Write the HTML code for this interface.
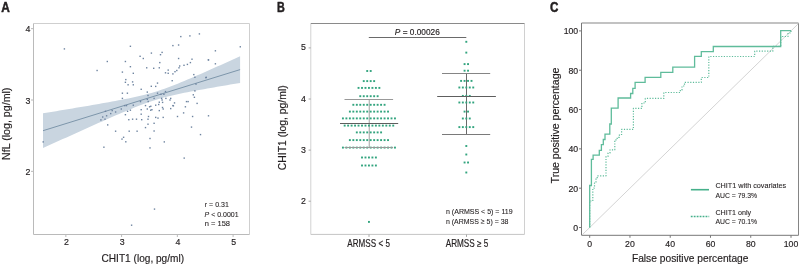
<!DOCTYPE html>
<html><head><meta charset="utf-8"><style>
html,body{margin:0;padding:0;background:#fff;width:800px;height:265px;overflow:hidden}
svg{will-change:transform}
</style></head><body>
<svg width="800" height="265" viewBox="0 0 800 265" style="display:block">
<g font-family='"Liberation Sans", sans-serif' stroke-linejoin="round">
<polygon points="43.00,113.31 46.28,112.77 49.57,112.23 52.85,111.69 56.14,111.15 59.42,110.60 62.71,110.06 66.00,109.51 69.28,108.96 72.56,108.41 75.85,107.86 79.13,107.31 82.42,106.75 85.70,106.20 88.99,105.63 92.28,105.07 95.56,104.50 98.84,103.93 102.13,103.35 105.41,102.77 108.70,102.18 111.98,101.58 115.27,100.98 118.56,100.36 121.84,99.73 125.12,99.09 128.41,98.42 131.69,97.74 134.98,97.03 138.26,96.29 141.55,95.52 144.83,94.70 148.12,93.84 151.41,92.92 154.69,91.95 157.97,90.92 161.26,89.83 164.55,88.69 167.83,87.49 171.11,86.25 174.40,84.97 177.69,83.66 180.97,82.32 184.25,80.95 187.54,79.57 190.82,78.17 194.11,76.76 197.39,75.33 200.68,73.90 203.97,72.46 207.25,71.01 210.53,69.55 213.82,68.09 217.10,66.62 220.39,65.15 223.68,63.68 226.96,62.20 230.24,60.72 233.53,59.24 236.81,57.76 240.10,56.27 240.10,82.93 236.81,83.48 233.53,84.03 230.24,84.59 226.96,85.14 223.68,85.70 220.39,86.27 217.10,86.83 213.82,87.40 210.53,87.98 207.25,88.56 203.97,89.15 200.68,89.74 197.39,90.34 194.11,90.95 190.82,91.58 187.54,92.21 184.25,92.87 180.97,93.54 177.69,94.24 174.40,94.96 171.11,95.72 167.83,96.52 164.55,97.36 161.26,98.25 157.97,99.20 154.69,100.20 151.41,101.27 148.12,102.39 144.83,103.56 141.55,104.78 138.26,106.04 134.98,107.34 131.69,108.67 128.41,110.02 125.12,111.40 121.84,112.79 118.56,114.20 115.27,115.62 111.98,117.05 108.70,118.49 105.41,119.93 102.13,121.39 98.84,122.85 95.56,124.31 92.28,125.78 88.99,127.25 85.70,128.73 82.42,130.21 79.13,131.69 75.85,133.17 72.56,134.65 69.28,136.14 66.00,137.63 62.71,139.12 59.42,140.61 56.14,142.10 52.85,143.60 49.57,145.09 46.28,146.59 43.00,148.09" fill="#c9d5e0"/>
<line x1="43.0" y1="130.70" x2="240.1" y2="69.60" stroke="#6f8aa1" stroke-width="0.85"/>
<rect x="63.70" y="48.20" width="1.4" height="1.4" fill="#6e84a0"/>
<rect x="129.70" y="45.60" width="1.4" height="1.4" fill="#6e84a0"/>
<rect x="150.70" y="52.40" width="1.4" height="1.4" fill="#6e84a0"/>
<rect x="139.40" y="55.60" width="1.4" height="1.4" fill="#6e84a0"/>
<rect x="142.60" y="57.80" width="1.4" height="1.4" fill="#6e84a0"/>
<rect x="106.60" y="60.80" width="1.4" height="1.4" fill="#6e84a0"/>
<rect x="124.70" y="60.80" width="1.4" height="1.4" fill="#6e84a0"/>
<rect x="129.70" y="66.00" width="1.4" height="1.4" fill="#6e84a0"/>
<rect x="146.00" y="67.10" width="1.4" height="1.4" fill="#6e84a0"/>
<rect x="96.40" y="69.80" width="1.4" height="1.4" fill="#6e84a0"/>
<rect x="121.70" y="71.40" width="1.4" height="1.4" fill="#6e84a0"/>
<rect x="132.60" y="72.60" width="1.4" height="1.4" fill="#6e84a0"/>
<rect x="125.10" y="78.90" width="1.4" height="1.4" fill="#6e84a0"/>
<rect x="124.70" y="81.60" width="1.4" height="1.4" fill="#6e84a0"/>
<rect x="131.90" y="81.20" width="1.4" height="1.4" fill="#6e84a0"/>
<rect x="198.70" y="33.20" width="1.4" height="1.4" fill="#6e84a0"/>
<rect x="189.20" y="35.20" width="1.4" height="1.4" fill="#6e84a0"/>
<rect x="180.10" y="35.90" width="1.4" height="1.4" fill="#6e84a0"/>
<rect x="172.20" y="44.90" width="1.4" height="1.4" fill="#6e84a0"/>
<rect x="177.90" y="44.30" width="1.4" height="1.4" fill="#6e84a0"/>
<rect x="161.40" y="51.70" width="1.4" height="1.4" fill="#6e84a0"/>
<rect x="159.80" y="54.00" width="1.4" height="1.4" fill="#6e84a0"/>
<rect x="177.90" y="57.80" width="1.4" height="1.4" fill="#6e84a0"/>
<rect x="191.30" y="58.50" width="1.4" height="1.4" fill="#6e84a0"/>
<rect x="207.80" y="59.20" width="1.4" height="1.4" fill="#6e84a0"/>
<rect x="159.10" y="61.90" width="1.4" height="1.4" fill="#6e84a0"/>
<rect x="189.70" y="61.90" width="1.4" height="1.4" fill="#6e84a0"/>
<rect x="186.70" y="63.70" width="1.4" height="1.4" fill="#6e84a0"/>
<rect x="183.30" y="64.60" width="1.4" height="1.4" fill="#6e84a0"/>
<rect x="179.00" y="65.30" width="1.4" height="1.4" fill="#6e84a0"/>
<rect x="178.30" y="67.10" width="1.4" height="1.4" fill="#6e84a0"/>
<rect x="158.60" y="67.10" width="1.4" height="1.4" fill="#6e84a0"/>
<rect x="153.00" y="67.60" width="1.4" height="1.4" fill="#6e84a0"/>
<rect x="167.50" y="69.40" width="1.4" height="1.4" fill="#6e84a0"/>
<rect x="176.10" y="69.80" width="1.4" height="1.4" fill="#6e84a0"/>
<rect x="174.30" y="71.00" width="1.4" height="1.4" fill="#6e84a0"/>
<rect x="164.80" y="72.10" width="1.4" height="1.4" fill="#6e84a0"/>
<rect x="167.50" y="72.60" width="1.4" height="1.4" fill="#6e84a0"/>
<rect x="172.20" y="73.20" width="1.4" height="1.4" fill="#6e84a0"/>
<rect x="193.10" y="73.90" width="1.4" height="1.4" fill="#6e84a0"/>
<rect x="171.50" y="80.00" width="1.4" height="1.4" fill="#6e84a0"/>
<rect x="194.20" y="76.60" width="1.4" height="1.4" fill="#6e84a0"/>
<rect x="205.50" y="76.60" width="1.4" height="1.4" fill="#6e84a0"/>
<rect x="239.60" y="46.10" width="1.4" height="1.4" fill="#6e84a0"/>
<rect x="214.70" y="50.10" width="1.4" height="1.4" fill="#6e84a0"/>
<rect x="207.70" y="59.20" width="1.4" height="1.4" fill="#6e84a0"/>
<rect x="214.70" y="63.10" width="1.4" height="1.4" fill="#6e84a0"/>
<rect x="205.20" y="77.00" width="1.4" height="1.4" fill="#6e84a0"/>
<rect x="127.40" y="84.10" width="1.4" height="1.4" fill="#6e84a0"/>
<rect x="132.60" y="84.10" width="1.4" height="1.4" fill="#6e84a0"/>
<rect x="140.50" y="88.60" width="1.4" height="1.4" fill="#6e84a0"/>
<rect x="146.60" y="91.40" width="1.4" height="1.4" fill="#6e84a0"/>
<rect x="121.70" y="92.50" width="1.4" height="1.4" fill="#6e84a0"/>
<rect x="126.70" y="92.50" width="1.4" height="1.4" fill="#6e84a0"/>
<rect x="147.30" y="94.80" width="1.4" height="1.4" fill="#6e84a0"/>
<rect x="121.70" y="97.70" width="1.4" height="1.4" fill="#6e84a0"/>
<rect x="146.60" y="98.60" width="1.4" height="1.4" fill="#6e84a0"/>
<rect x="139.80" y="100.90" width="1.4" height="1.4" fill="#6e84a0"/>
<rect x="125.80" y="104.90" width="1.4" height="1.4" fill="#6e84a0"/>
<rect x="124.00" y="104.90" width="1.4" height="1.4" fill="#6e84a0"/>
<rect x="132.60" y="104.50" width="1.4" height="1.4" fill="#6e84a0"/>
<rect x="144.80" y="104.90" width="1.4" height="1.4" fill="#6e84a0"/>
<rect x="148.90" y="106.10" width="1.4" height="1.4" fill="#6e84a0"/>
<rect x="146.60" y="108.30" width="1.4" height="1.4" fill="#6e84a0"/>
<rect x="140.50" y="109.00" width="1.4" height="1.4" fill="#6e84a0"/>
<rect x="150.00" y="109.50" width="1.4" height="1.4" fill="#6e84a0"/>
<rect x="126.90" y="110.60" width="1.4" height="1.4" fill="#6e84a0"/>
<rect x="129.70" y="109.50" width="1.4" height="1.4" fill="#6e84a0"/>
<rect x="120.60" y="108.30" width="1.4" height="1.4" fill="#6e84a0"/>
<rect x="111.50" y="109.90" width="1.4" height="1.4" fill="#6e84a0"/>
<rect x="114.90" y="111.30" width="1.4" height="1.4" fill="#6e84a0"/>
<rect x="104.80" y="110.60" width="1.4" height="1.4" fill="#6e84a0"/>
<rect x="110.00" y="112.90" width="1.4" height="1.4" fill="#6e84a0"/>
<rect x="105.90" y="115.10" width="1.4" height="1.4" fill="#6e84a0"/>
<rect x="124.70" y="114.00" width="1.4" height="1.4" fill="#6e84a0"/>
<rect x="140.50" y="113.50" width="1.4" height="1.4" fill="#6e84a0"/>
<rect x="147.80" y="115.80" width="1.4" height="1.4" fill="#6e84a0"/>
<rect x="102.00" y="116.30" width="1.4" height="1.4" fill="#6e84a0"/>
<rect x="100.20" y="119.20" width="1.4" height="1.4" fill="#6e84a0"/>
<rect x="104.30" y="118.50" width="1.4" height="1.4" fill="#6e84a0"/>
<rect x="128.10" y="119.00" width="1.4" height="1.4" fill="#6e84a0"/>
<rect x="131.90" y="118.50" width="1.4" height="1.4" fill="#6e84a0"/>
<rect x="135.80" y="118.50" width="1.4" height="1.4" fill="#6e84a0"/>
<rect x="141.00" y="119.00" width="1.4" height="1.4" fill="#6e84a0"/>
<rect x="147.30" y="118.50" width="1.4" height="1.4" fill="#6e84a0"/>
<rect x="107.00" y="124.20" width="1.4" height="1.4" fill="#6e84a0"/>
<rect x="147.30" y="123.50" width="1.4" height="1.4" fill="#6e84a0"/>
<rect x="144.80" y="126.90" width="1.4" height="1.4" fill="#6e84a0"/>
<rect x="114.90" y="130.50" width="1.4" height="1.4" fill="#6e84a0"/>
<rect x="128.50" y="130.50" width="1.4" height="1.4" fill="#6e84a0"/>
<rect x="136.40" y="130.50" width="1.4" height="1.4" fill="#6e84a0"/>
<rect x="122.90" y="136.60" width="1.4" height="1.4" fill="#6e84a0"/>
<rect x="121.30" y="138.40" width="1.4" height="1.4" fill="#6e84a0"/>
<rect x="149.30" y="137.80" width="1.4" height="1.4" fill="#6e84a0"/>
<rect x="155.00" y="85.70" width="1.4" height="1.4" fill="#6e84a0"/>
<rect x="195.30" y="83.40" width="1.4" height="1.4" fill="#6e84a0"/>
<rect x="194.20" y="90.20" width="1.4" height="1.4" fill="#6e84a0"/>
<rect x="164.80" y="90.90" width="1.4" height="1.4" fill="#6e84a0"/>
<rect x="156.80" y="92.50" width="1.4" height="1.4" fill="#6e84a0"/>
<rect x="160.20" y="93.60" width="1.4" height="1.4" fill="#6e84a0"/>
<rect x="163.20" y="93.60" width="1.4" height="1.4" fill="#6e84a0"/>
<rect x="192.60" y="94.10" width="1.4" height="1.4" fill="#6e84a0"/>
<rect x="193.70" y="96.60" width="1.4" height="1.4" fill="#6e84a0"/>
<rect x="153.40" y="97.70" width="1.4" height="1.4" fill="#6e84a0"/>
<rect x="160.90" y="97.70" width="1.4" height="1.4" fill="#6e84a0"/>
<rect x="165.20" y="97.70" width="1.4" height="1.4" fill="#6e84a0"/>
<rect x="170.00" y="97.70" width="1.4" height="1.4" fill="#6e84a0"/>
<rect x="169.30" y="99.30" width="1.4" height="1.4" fill="#6e84a0"/>
<rect x="161.40" y="99.30" width="1.4" height="1.4" fill="#6e84a0"/>
<rect x="185.80" y="100.90" width="1.4" height="1.4" fill="#6e84a0"/>
<rect x="187.40" y="100.90" width="1.4" height="1.4" fill="#6e84a0"/>
<rect x="173.80" y="102.20" width="1.4" height="1.4" fill="#6e84a0"/>
<rect x="158.60" y="101.50" width="1.4" height="1.4" fill="#6e84a0"/>
<rect x="196.40" y="102.70" width="1.4" height="1.4" fill="#6e84a0"/>
<rect x="155.00" y="104.50" width="1.4" height="1.4" fill="#6e84a0"/>
<rect x="158.00" y="103.80" width="1.4" height="1.4" fill="#6e84a0"/>
<rect x="172.20" y="104.90" width="1.4" height="1.4" fill="#6e84a0"/>
<rect x="184.70" y="106.10" width="1.4" height="1.4" fill="#6e84a0"/>
<rect x="161.80" y="106.80" width="1.4" height="1.4" fill="#6e84a0"/>
<rect x="162.50" y="108.30" width="1.4" height="1.4" fill="#6e84a0"/>
<rect x="170.00" y="107.90" width="1.4" height="1.4" fill="#6e84a0"/>
<rect x="158.60" y="109.90" width="1.4" height="1.4" fill="#6e84a0"/>
<rect x="182.90" y="112.20" width="1.4" height="1.4" fill="#6e84a0"/>
<rect x="176.80" y="115.80" width="1.4" height="1.4" fill="#6e84a0"/>
<rect x="191.90" y="115.80" width="1.4" height="1.4" fill="#6e84a0"/>
<rect x="207.80" y="115.10" width="1.4" height="1.4" fill="#6e84a0"/>
<rect x="155.00" y="116.70" width="1.4" height="1.4" fill="#6e84a0"/>
<rect x="157.30" y="117.40" width="1.4" height="1.4" fill="#6e84a0"/>
<rect x="162.50" y="116.70" width="1.4" height="1.4" fill="#6e84a0"/>
<rect x="153.40" y="122.60" width="1.4" height="1.4" fill="#6e84a0"/>
<rect x="190.80" y="126.40" width="1.4" height="1.4" fill="#6e84a0"/>
<rect x="153.40" y="130.30" width="1.4" height="1.4" fill="#6e84a0"/>
<rect x="199.80" y="133.90" width="1.4" height="1.4" fill="#6e84a0"/>
<rect x="163.60" y="141.20" width="1.4" height="1.4" fill="#6e84a0"/>
<rect x="42.50" y="141.20" width="1.4" height="1.4" fill="#6e84a0"/>
<rect x="156.80" y="82.40" width="1.4" height="1.4" fill="#6e84a0"/>
<rect x="150.60" y="85.60" width="1.4" height="1.4" fill="#6e84a0"/>
<rect x="147.50" y="100.80" width="1.4" height="1.4" fill="#6e84a0"/>
<rect x="161.90" y="101.70" width="1.4" height="1.4" fill="#6e84a0"/>
<rect x="150.10" y="105.60" width="1.4" height="1.4" fill="#6e84a0"/>
<rect x="151.20" y="109.00" width="1.4" height="1.4" fill="#6e84a0"/>
<rect x="172.70" y="105.10" width="1.4" height="1.4" fill="#6e84a0"/>
<rect x="103.20" y="146.50" width="1.4" height="1.4" fill="#6e84a0"/>
<rect x="125.10" y="141.10" width="1.4" height="1.4" fill="#6e84a0"/>
<rect x="149.30" y="147.20" width="1.4" height="1.4" fill="#6e84a0"/>
<rect x="183.50" y="157.40" width="1.4" height="1.4" fill="#6e84a0"/>
<rect x="153.80" y="208.40" width="1.4" height="1.4" fill="#6e84a0"/>
<rect x="130.90" y="224.50" width="1.4" height="1.4" fill="#6e84a0"/>
<path d="M33.5,23.5 H249.5 V234.5" fill="none" stroke="#cfcfcf" stroke-width="1"/>
<path d="M33.5,23.5 V234.5 H249.5" fill="none" stroke="#bababa" stroke-width="1"/>
<line x1="31.0" y1="171.35" x2="33.5" y2="171.35" stroke="#bababa" stroke-width="1"/>
<text x="30.3" y="174.85" font-size="9.8" text-anchor="end" fill="#231f20" stroke="#231f20" stroke-width="0.18" textLength="4.9" lengthAdjust="spacingAndGlyphs" >2</text>
<line x1="31.0" y1="100.00" x2="33.5" y2="100.00" stroke="#bababa" stroke-width="1"/>
<text x="30.3" y="103.5" font-size="9.8" text-anchor="end" fill="#231f20" stroke="#231f20" stroke-width="0.18" textLength="4.9" lengthAdjust="spacingAndGlyphs" >3</text>
<line x1="31.0" y1="28.65" x2="33.5" y2="28.65" stroke="#bababa" stroke-width="1"/>
<text x="30.3" y="32.150000000000006" font-size="9.8" text-anchor="end" fill="#231f20" stroke="#231f20" stroke-width="0.18" textLength="4.9" lengthAdjust="spacingAndGlyphs" >4</text>
<line x1="65.85" y1="234.5" x2="65.85" y2="237.0" stroke="#bababa" stroke-width="1"/>
<text x="66.45" y="244.7" font-size="9.8" text-anchor="middle" fill="#231f20" stroke="#231f20" stroke-width="0.18" textLength="4.9" lengthAdjust="spacingAndGlyphs" >2</text>
<line x1="121.60" y1="234.5" x2="121.60" y2="237.0" stroke="#bababa" stroke-width="1"/>
<text x="122.20" y="244.7" font-size="9.8" text-anchor="middle" fill="#231f20" stroke="#231f20" stroke-width="0.18" textLength="4.9" lengthAdjust="spacingAndGlyphs" >3</text>
<line x1="177.35" y1="234.5" x2="177.35" y2="237.0" stroke="#bababa" stroke-width="1"/>
<text x="177.95" y="244.7" font-size="9.8" text-anchor="middle" fill="#231f20" stroke="#231f20" stroke-width="0.18" textLength="4.9" lengthAdjust="spacingAndGlyphs" >4</text>
<line x1="233.10" y1="234.5" x2="233.10" y2="237.0" stroke="#bababa" stroke-width="1"/>
<text x="233.70" y="244.7" font-size="9.8" text-anchor="middle" fill="#231f20" stroke="#231f20" stroke-width="0.18" textLength="4.9" lengthAdjust="spacingAndGlyphs" >5</text>
<text x="101.5" y="261.9" font-size="10.5" text-anchor="start" fill="#231f20" stroke="#231f20" stroke-width="0.18" textLength="82.6" lengthAdjust="spacingAndGlyphs" >CHIT1 (log, pg/ml)</text>
<text transform="translate(10.0,159.9) rotate(-90)" font-size="10.5" fill="#231f20" stroke="#231f20" stroke-width="0.18" textLength="72.3" lengthAdjust="spacingAndGlyphs">NfL (log, pg/ml)</text>
<text x="1.3" y="11.7" font-size="14" text-anchor="start" fill="#231f20" textLength="8.6" lengthAdjust="spacingAndGlyphs" font-weight="bold" stroke="#231f20" stroke-width="0.5">A</text>
<text x="204.8" y="207.1" font-size="8.0" text-anchor="start" fill="#231f20" stroke="#231f20" stroke-width="0.1" textLength="24.0" lengthAdjust="spacingAndGlyphs" >r = 0.31</text>
<text x="204.6" y="216.8" font-size="8.0" text-anchor="start" fill="#231f20" stroke="#231f20" stroke-width="0.1" textLength="34.0" lengthAdjust="spacingAndGlyphs" ><tspan font-style="italic">P</tspan> &lt; 0.0001</text>
<text x="204.8" y="226.2" font-size="8.0" text-anchor="start" fill="#231f20" stroke="#231f20" stroke-width="0.1" textLength="25.2" lengthAdjust="spacingAndGlyphs" >n = 158</text>
<path d="M524.5,23.5 V234.4" fill="none" stroke="#d0d0d0" stroke-width="1"/>
<path d="M310.8,23.5 V234.4" fill="none" stroke="#d2d2d2" stroke-width="1"/>
<path d="M310.8,234.4 H524.5" fill="none" stroke="#c4c4c4" stroke-width="1"/>
<path d="M310.8,23.5 H524.5" fill="none" stroke="#8a8a8a" stroke-width="1"/>
<line x1="308.6" y1="201.20" x2="310.8" y2="201.20" stroke="#a8a8a8" stroke-width="1"/>
<text x="305.8" y="203.8" font-size="9.8" text-anchor="end" fill="#231f20" stroke="#231f20" stroke-width="0.18" textLength="4.9" lengthAdjust="spacingAndGlyphs" >2</text>
<line x1="308.6" y1="150.10" x2="310.8" y2="150.10" stroke="#a8a8a8" stroke-width="1"/>
<text x="305.8" y="152.7" font-size="9.8" text-anchor="end" fill="#231f20" stroke="#231f20" stroke-width="0.18" textLength="4.9" lengthAdjust="spacingAndGlyphs" >3</text>
<line x1="308.6" y1="99.00" x2="310.8" y2="99.00" stroke="#a8a8a8" stroke-width="1"/>
<text x="305.8" y="101.6" font-size="9.8" text-anchor="end" fill="#231f20" stroke="#231f20" stroke-width="0.18" textLength="4.9" lengthAdjust="spacingAndGlyphs" >4</text>
<line x1="308.6" y1="47.90" x2="310.8" y2="47.90" stroke="#a8a8a8" stroke-width="1"/>
<text x="305.8" y="49.8" font-size="9.8" text-anchor="end" fill="#231f20" stroke="#231f20" stroke-width="0.18" textLength="4.9" lengthAdjust="spacingAndGlyphs" >5</text>
<line x1="369.0" y1="234.4" x2="369.0" y2="236.9" stroke="#a8a8a8" stroke-width="1"/>
<line x1="466.5" y1="234.4" x2="466.5" y2="236.9" stroke="#a8a8a8" stroke-width="1"/>
<text x="347.3" y="246.9" font-size="10.2" text-anchor="start" fill="#231f20" stroke="#231f20" stroke-width="0.18" textLength="42.6" lengthAdjust="spacingAndGlyphs" >ARMSS &lt; 5</text>
<text x="445.7" y="246.9" font-size="10.2" text-anchor="start" fill="#231f20" stroke="#231f20" stroke-width="0.18" textLength="42.6" lengthAdjust="spacingAndGlyphs" >ARMSS ≥ 5</text>
<text transform="translate(285.9,170.2) rotate(-90)" font-size="10.5" fill="#231f20" stroke="#231f20" stroke-width="0.18" textLength="84.9" lengthAdjust="spacingAndGlyphs">CHIT1 (log, pg/ml)</text>
<text x="276.9" y="11.7" font-size="14" text-anchor="start" fill="#231f20" textLength="7.8" lengthAdjust="spacingAndGlyphs" font-weight="bold" stroke="#231f20" stroke-width="0.5">B</text>
<line x1="368.8" y1="37.5" x2="466.3" y2="37.5" stroke="#6a6a6a" stroke-width="1"/>
<text x="394.8" y="34.8" font-size="9.5" text-anchor="start" fill="#231f20" stroke="#231f20" stroke-width="0.18" textLength="45" lengthAdjust="spacingAndGlyphs" ><tspan font-style="italic">P</tspan> = 0.00026</text>
<text x="446" y="214.1" font-size="8.0" text-anchor="start" fill="#231f20" stroke="#231f20" stroke-width="0.1" textLength="66.6" lengthAdjust="spacingAndGlyphs" >n (ARMSS &lt; 5) = 119</text>
<text x="446" y="223.6" font-size="8.0" text-anchor="start" fill="#231f20" stroke="#231f20" stroke-width="0.1" textLength="62.4" lengthAdjust="spacingAndGlyphs" >n (ARMSS ≥ 5) = 38</text>
<line x1="369.3" y1="99.5" x2="369.3" y2="147.5" stroke="#b8b8b8" stroke-width="1.3"/>
<line x1="466.5" y1="73.5" x2="466.5" y2="134.5" stroke="#6a6a6a" stroke-width="1"/>
<rect x="366.26" y="70.05" width="1.9" height="1.9" fill="#32a47e"/>
<rect x="369.74" y="70.05" width="1.9" height="1.9" fill="#32a47e"/>
<rect x="362.80" y="80.15" width="1.9" height="1.9" fill="#32a47e"/>
<rect x="366.26" y="80.15" width="1.9" height="1.9" fill="#32a47e"/>
<rect x="369.74" y="80.15" width="1.9" height="1.9" fill="#32a47e"/>
<rect x="373.20" y="80.15" width="1.9" height="1.9" fill="#32a47e"/>
<rect x="357.59" y="86.95" width="1.9" height="1.9" fill="#32a47e"/>
<rect x="361.06" y="86.95" width="1.9" height="1.9" fill="#32a47e"/>
<rect x="364.53" y="86.95" width="1.9" height="1.9" fill="#32a47e"/>
<rect x="368.00" y="86.95" width="1.9" height="1.9" fill="#32a47e"/>
<rect x="371.47" y="86.95" width="1.9" height="1.9" fill="#32a47e"/>
<rect x="374.94" y="86.95" width="1.9" height="1.9" fill="#32a47e"/>
<rect x="378.41" y="86.95" width="1.9" height="1.9" fill="#32a47e"/>
<rect x="359.32" y="95.25" width="1.9" height="1.9" fill="#32a47e"/>
<rect x="362.80" y="95.25" width="1.9" height="1.9" fill="#32a47e"/>
<rect x="366.26" y="95.25" width="1.9" height="1.9" fill="#32a47e"/>
<rect x="369.74" y="95.25" width="1.9" height="1.9" fill="#32a47e"/>
<rect x="373.20" y="95.25" width="1.9" height="1.9" fill="#32a47e"/>
<rect x="376.68" y="95.25" width="1.9" height="1.9" fill="#32a47e"/>
<rect x="352.38" y="103.85" width="1.9" height="1.9" fill="#32a47e"/>
<rect x="355.86" y="103.85" width="1.9" height="1.9" fill="#32a47e"/>
<rect x="359.32" y="103.85" width="1.9" height="1.9" fill="#32a47e"/>
<rect x="362.80" y="103.85" width="1.9" height="1.9" fill="#32a47e"/>
<rect x="366.26" y="103.85" width="1.9" height="1.9" fill="#32a47e"/>
<rect x="369.74" y="103.85" width="1.9" height="1.9" fill="#32a47e"/>
<rect x="373.20" y="103.85" width="1.9" height="1.9" fill="#32a47e"/>
<rect x="376.68" y="103.85" width="1.9" height="1.9" fill="#32a47e"/>
<rect x="380.14" y="103.85" width="1.9" height="1.9" fill="#32a47e"/>
<rect x="383.62" y="103.85" width="1.9" height="1.9" fill="#32a47e"/>
<rect x="348.92" y="110.65" width="1.9" height="1.9" fill="#32a47e"/>
<rect x="352.38" y="110.65" width="1.9" height="1.9" fill="#32a47e"/>
<rect x="355.86" y="110.65" width="1.9" height="1.9" fill="#32a47e"/>
<rect x="359.32" y="110.65" width="1.9" height="1.9" fill="#32a47e"/>
<rect x="362.80" y="110.65" width="1.9" height="1.9" fill="#32a47e"/>
<rect x="366.26" y="110.65" width="1.9" height="1.9" fill="#32a47e"/>
<rect x="369.74" y="110.65" width="1.9" height="1.9" fill="#32a47e"/>
<rect x="373.20" y="110.65" width="1.9" height="1.9" fill="#32a47e"/>
<rect x="376.68" y="110.65" width="1.9" height="1.9" fill="#32a47e"/>
<rect x="380.14" y="110.65" width="1.9" height="1.9" fill="#32a47e"/>
<rect x="383.62" y="110.65" width="1.9" height="1.9" fill="#32a47e"/>
<rect x="387.08" y="110.65" width="1.9" height="1.9" fill="#32a47e"/>
<rect x="341.98" y="117.45" width="1.9" height="1.9" fill="#32a47e"/>
<rect x="345.44" y="117.45" width="1.9" height="1.9" fill="#32a47e"/>
<rect x="348.92" y="117.45" width="1.9" height="1.9" fill="#32a47e"/>
<rect x="352.38" y="117.45" width="1.9" height="1.9" fill="#32a47e"/>
<rect x="355.86" y="117.45" width="1.9" height="1.9" fill="#32a47e"/>
<rect x="359.32" y="117.45" width="1.9" height="1.9" fill="#32a47e"/>
<rect x="362.80" y="117.45" width="1.9" height="1.9" fill="#32a47e"/>
<rect x="366.26" y="117.45" width="1.9" height="1.9" fill="#32a47e"/>
<rect x="369.74" y="117.45" width="1.9" height="1.9" fill="#32a47e"/>
<rect x="373.20" y="117.45" width="1.9" height="1.9" fill="#32a47e"/>
<rect x="376.68" y="117.45" width="1.9" height="1.9" fill="#32a47e"/>
<rect x="380.14" y="117.45" width="1.9" height="1.9" fill="#32a47e"/>
<rect x="383.62" y="117.45" width="1.9" height="1.9" fill="#32a47e"/>
<rect x="387.08" y="117.45" width="1.9" height="1.9" fill="#32a47e"/>
<rect x="390.56" y="117.45" width="1.9" height="1.9" fill="#32a47e"/>
<rect x="394.02" y="117.45" width="1.9" height="1.9" fill="#32a47e"/>
<rect x="343.71" y="124.65" width="1.9" height="1.9" fill="#32a47e"/>
<rect x="347.18" y="124.65" width="1.9" height="1.9" fill="#32a47e"/>
<rect x="350.65" y="124.65" width="1.9" height="1.9" fill="#32a47e"/>
<rect x="354.12" y="124.65" width="1.9" height="1.9" fill="#32a47e"/>
<rect x="357.59" y="124.65" width="1.9" height="1.9" fill="#32a47e"/>
<rect x="361.06" y="124.65" width="1.9" height="1.9" fill="#32a47e"/>
<rect x="364.53" y="124.65" width="1.9" height="1.9" fill="#32a47e"/>
<rect x="368.00" y="124.65" width="1.9" height="1.9" fill="#32a47e"/>
<rect x="371.47" y="124.65" width="1.9" height="1.9" fill="#32a47e"/>
<rect x="374.94" y="124.65" width="1.9" height="1.9" fill="#32a47e"/>
<rect x="378.41" y="124.65" width="1.9" height="1.9" fill="#32a47e"/>
<rect x="381.88" y="124.65" width="1.9" height="1.9" fill="#32a47e"/>
<rect x="385.35" y="124.65" width="1.9" height="1.9" fill="#32a47e"/>
<rect x="388.82" y="124.65" width="1.9" height="1.9" fill="#32a47e"/>
<rect x="392.29" y="124.65" width="1.9" height="1.9" fill="#32a47e"/>
<rect x="355.86" y="131.45" width="1.9" height="1.9" fill="#32a47e"/>
<rect x="359.32" y="131.45" width="1.9" height="1.9" fill="#32a47e"/>
<rect x="362.80" y="131.45" width="1.9" height="1.9" fill="#32a47e"/>
<rect x="366.26" y="131.45" width="1.9" height="1.9" fill="#32a47e"/>
<rect x="369.74" y="131.45" width="1.9" height="1.9" fill="#32a47e"/>
<rect x="373.20" y="131.45" width="1.9" height="1.9" fill="#32a47e"/>
<rect x="376.68" y="131.45" width="1.9" height="1.9" fill="#32a47e"/>
<rect x="380.14" y="131.45" width="1.9" height="1.9" fill="#32a47e"/>
<rect x="348.92" y="139.15" width="1.9" height="1.9" fill="#32a47e"/>
<rect x="352.38" y="139.15" width="1.9" height="1.9" fill="#32a47e"/>
<rect x="355.86" y="139.15" width="1.9" height="1.9" fill="#32a47e"/>
<rect x="359.32" y="139.15" width="1.9" height="1.9" fill="#32a47e"/>
<rect x="362.80" y="139.15" width="1.9" height="1.9" fill="#32a47e"/>
<rect x="366.26" y="139.15" width="1.9" height="1.9" fill="#32a47e"/>
<rect x="369.74" y="139.15" width="1.9" height="1.9" fill="#32a47e"/>
<rect x="373.20" y="139.15" width="1.9" height="1.9" fill="#32a47e"/>
<rect x="376.68" y="139.15" width="1.9" height="1.9" fill="#32a47e"/>
<rect x="380.14" y="139.15" width="1.9" height="1.9" fill="#32a47e"/>
<rect x="383.62" y="139.15" width="1.9" height="1.9" fill="#32a47e"/>
<rect x="387.08" y="139.15" width="1.9" height="1.9" fill="#32a47e"/>
<rect x="341.98" y="146.65" width="1.9" height="1.9" fill="#32a47e"/>
<rect x="345.44" y="146.65" width="1.9" height="1.9" fill="#32a47e"/>
<rect x="348.92" y="146.65" width="1.9" height="1.9" fill="#32a47e"/>
<rect x="352.38" y="146.65" width="1.9" height="1.9" fill="#32a47e"/>
<rect x="355.86" y="146.65" width="1.9" height="1.9" fill="#32a47e"/>
<rect x="359.32" y="146.65" width="1.9" height="1.9" fill="#32a47e"/>
<rect x="362.80" y="146.65" width="1.9" height="1.9" fill="#32a47e"/>
<rect x="366.26" y="146.65" width="1.9" height="1.9" fill="#32a47e"/>
<rect x="369.74" y="146.65" width="1.9" height="1.9" fill="#32a47e"/>
<rect x="373.20" y="146.65" width="1.9" height="1.9" fill="#32a47e"/>
<rect x="376.68" y="146.65" width="1.9" height="1.9" fill="#32a47e"/>
<rect x="380.14" y="146.65" width="1.9" height="1.9" fill="#32a47e"/>
<rect x="383.62" y="146.65" width="1.9" height="1.9" fill="#32a47e"/>
<rect x="387.08" y="146.65" width="1.9" height="1.9" fill="#32a47e"/>
<rect x="390.56" y="146.65" width="1.9" height="1.9" fill="#32a47e"/>
<rect x="394.02" y="146.65" width="1.9" height="1.9" fill="#32a47e"/>
<rect x="361.06" y="156.55" width="1.9" height="1.9" fill="#32a47e"/>
<rect x="364.53" y="156.55" width="1.9" height="1.9" fill="#32a47e"/>
<rect x="368.00" y="156.55" width="1.9" height="1.9" fill="#32a47e"/>
<rect x="371.47" y="156.55" width="1.9" height="1.9" fill="#32a47e"/>
<rect x="374.94" y="156.55" width="1.9" height="1.9" fill="#32a47e"/>
<rect x="361.06" y="164.55" width="1.9" height="1.9" fill="#32a47e"/>
<rect x="364.53" y="164.55" width="1.9" height="1.9" fill="#32a47e"/>
<rect x="368.00" y="164.55" width="1.9" height="1.9" fill="#32a47e"/>
<rect x="371.47" y="164.55" width="1.9" height="1.9" fill="#32a47e"/>
<rect x="374.94" y="164.55" width="1.9" height="1.9" fill="#32a47e"/>
<rect x="368.00" y="220.95" width="1.9" height="1.9" fill="#32a47e"/>
<rect x="465.35" y="40.85" width="1.9" height="1.9" fill="#32a47e"/>
<rect x="465.35" y="51.65" width="1.9" height="1.9" fill="#32a47e"/>
<rect x="463.62" y="63.15" width="1.9" height="1.9" fill="#32a47e"/>
<rect x="467.09" y="63.15" width="1.9" height="1.9" fill="#32a47e"/>
<rect x="463.62" y="69.75" width="1.9" height="1.9" fill="#32a47e"/>
<rect x="467.09" y="69.75" width="1.9" height="1.9" fill="#32a47e"/>
<rect x="460.15" y="79.95" width="1.9" height="1.9" fill="#32a47e"/>
<rect x="463.62" y="79.95" width="1.9" height="1.9" fill="#32a47e"/>
<rect x="467.09" y="79.95" width="1.9" height="1.9" fill="#32a47e"/>
<rect x="470.56" y="79.95" width="1.9" height="1.9" fill="#32a47e"/>
<rect x="458.41" y="86.55" width="1.9" height="1.9" fill="#32a47e"/>
<rect x="461.88" y="86.55" width="1.9" height="1.9" fill="#32a47e"/>
<rect x="465.35" y="86.55" width="1.9" height="1.9" fill="#32a47e"/>
<rect x="468.82" y="86.55" width="1.9" height="1.9" fill="#32a47e"/>
<rect x="472.29" y="86.55" width="1.9" height="1.9" fill="#32a47e"/>
<rect x="461.88" y="94.95" width="1.9" height="1.9" fill="#32a47e"/>
<rect x="465.35" y="94.95" width="1.9" height="1.9" fill="#32a47e"/>
<rect x="468.82" y="94.95" width="1.9" height="1.9" fill="#32a47e"/>
<rect x="458.41" y="101.55" width="1.9" height="1.9" fill="#32a47e"/>
<rect x="461.88" y="101.55" width="1.9" height="1.9" fill="#32a47e"/>
<rect x="465.35" y="101.55" width="1.9" height="1.9" fill="#32a47e"/>
<rect x="468.82" y="101.55" width="1.9" height="1.9" fill="#32a47e"/>
<rect x="472.29" y="101.55" width="1.9" height="1.9" fill="#32a47e"/>
<rect x="463.62" y="110.65" width="1.9" height="1.9" fill="#32a47e"/>
<rect x="467.09" y="110.65" width="1.9" height="1.9" fill="#32a47e"/>
<rect x="461.88" y="117.55" width="1.9" height="1.9" fill="#32a47e"/>
<rect x="465.35" y="117.55" width="1.9" height="1.9" fill="#32a47e"/>
<rect x="468.82" y="117.55" width="1.9" height="1.9" fill="#32a47e"/>
<rect x="458.41" y="126.15" width="1.9" height="1.9" fill="#32a47e"/>
<rect x="461.88" y="126.15" width="1.9" height="1.9" fill="#32a47e"/>
<rect x="465.35" y="126.15" width="1.9" height="1.9" fill="#32a47e"/>
<rect x="468.82" y="126.15" width="1.9" height="1.9" fill="#32a47e"/>
<rect x="472.29" y="126.15" width="1.9" height="1.9" fill="#32a47e"/>
<rect x="465.35" y="145.05" width="1.9" height="1.9" fill="#32a47e"/>
<rect x="465.35" y="153.55" width="1.9" height="1.9" fill="#32a47e"/>
<rect x="463.62" y="161.55" width="1.9" height="1.9" fill="#32a47e"/>
<rect x="467.09" y="161.55" width="1.9" height="1.9" fill="#32a47e"/>
<rect x="465.35" y="171.55" width="1.9" height="1.9" fill="#32a47e"/>
<line x1="344.5" y1="99.5" x2="393.1" y2="99.5" stroke="#999" stroke-width="1"/>
<line x1="340.0" y1="123.5" x2="398.2" y2="123.5" stroke="#5e5e5e" stroke-width="1"/>
<line x1="344.5" y1="147.5" x2="393.1" y2="147.5" stroke="#999" stroke-width="1"/>
<line x1="442.0" y1="73.5" x2="490.2" y2="73.5" stroke="#858585" stroke-width="1"/>
<line x1="437.2" y1="96.5" x2="495.9" y2="96.5" stroke="#5e5e5e" stroke-width="1"/>
<line x1="442.0" y1="134.5" x2="490.2" y2="134.5" stroke="#7a7a7a" stroke-width="1"/>
<path d="M581.5,23.0 H798.5 V235.3" fill="none" stroke="#858585" stroke-width="1"/>
<path d="M581.5,23.0 V235.3 H798.5" fill="none" stroke="#777" stroke-width="1"/>
<line x1="581.5" y1="235.51" x2="798.5" y2="23.57" stroke="#cfcfcf" stroke-width="0.9"/>
<line x1="579.0" y1="227.50" x2="581.5" y2="227.50" stroke="#777" stroke-width="1"/>
<text x="578.2" y="231.0" font-size="9.8" text-anchor="end" fill="#231f20" stroke="#231f20" stroke-width="0.18" textLength="4.85" lengthAdjust="spacingAndGlyphs" >0</text>
<line x1="589.70" y1="235.3" x2="589.70" y2="237.8" stroke="#777" stroke-width="1"/>
<text x="589.70" y="246.8" font-size="9.8" text-anchor="middle" fill="#231f20" stroke="#231f20" stroke-width="0.18" textLength="4.85" lengthAdjust="spacingAndGlyphs" >0</text>
<line x1="579.0" y1="188.18" x2="581.5" y2="188.18" stroke="#777" stroke-width="1"/>
<text x="578.2" y="191.68" font-size="9.8" text-anchor="end" fill="#231f20" stroke="#231f20" stroke-width="0.18" textLength="9.7" lengthAdjust="spacingAndGlyphs" >20</text>
<line x1="629.96" y1="235.3" x2="629.96" y2="237.8" stroke="#777" stroke-width="1"/>
<text x="629.96" y="246.8" font-size="9.8" text-anchor="middle" fill="#231f20" stroke="#231f20" stroke-width="0.18" textLength="9.7" lengthAdjust="spacingAndGlyphs" >20</text>
<line x1="579.0" y1="148.86" x2="581.5" y2="148.86" stroke="#777" stroke-width="1"/>
<text x="578.2" y="152.36" font-size="9.8" text-anchor="end" fill="#231f20" stroke="#231f20" stroke-width="0.18" textLength="9.7" lengthAdjust="spacingAndGlyphs" >40</text>
<line x1="670.22" y1="235.3" x2="670.22" y2="237.8" stroke="#777" stroke-width="1"/>
<text x="670.22" y="246.8" font-size="9.8" text-anchor="middle" fill="#231f20" stroke="#231f20" stroke-width="0.18" textLength="9.7" lengthAdjust="spacingAndGlyphs" >40</text>
<line x1="579.0" y1="109.54" x2="581.5" y2="109.54" stroke="#777" stroke-width="1"/>
<text x="578.2" y="113.04" font-size="9.8" text-anchor="end" fill="#231f20" stroke="#231f20" stroke-width="0.18" textLength="9.7" lengthAdjust="spacingAndGlyphs" >60</text>
<line x1="710.48" y1="235.3" x2="710.48" y2="237.8" stroke="#777" stroke-width="1"/>
<text x="710.48" y="246.8" font-size="9.8" text-anchor="middle" fill="#231f20" stroke="#231f20" stroke-width="0.18" textLength="9.7" lengthAdjust="spacingAndGlyphs" >60</text>
<line x1="579.0" y1="70.22" x2="581.5" y2="70.22" stroke="#777" stroke-width="1"/>
<text x="578.2" y="73.72" font-size="9.8" text-anchor="end" fill="#231f20" stroke="#231f20" stroke-width="0.18" textLength="9.7" lengthAdjust="spacingAndGlyphs" >80</text>
<line x1="750.74" y1="235.3" x2="750.74" y2="237.8" stroke="#777" stroke-width="1"/>
<text x="750.74" y="246.8" font-size="9.8" text-anchor="middle" fill="#231f20" stroke="#231f20" stroke-width="0.18" textLength="9.7" lengthAdjust="spacingAndGlyphs" >80</text>
<line x1="579.0" y1="30.90" x2="581.5" y2="30.90" stroke="#777" stroke-width="1"/>
<text x="578.2" y="34.400000000000006" font-size="9.8" text-anchor="end" fill="#231f20" stroke="#231f20" stroke-width="0.18" textLength="14.549999999999999" lengthAdjust="spacingAndGlyphs" >100</text>
<line x1="791.00" y1="235.3" x2="791.00" y2="237.8" stroke="#777" stroke-width="1"/>
<text x="791.00" y="246.8" font-size="9.8" text-anchor="middle" fill="#231f20" stroke="#231f20" stroke-width="0.18" textLength="14.549999999999999" lengthAdjust="spacingAndGlyphs" >100</text>
<text x="631.9" y="262.3" font-size="10.7" text-anchor="start" fill="#231f20" stroke="#231f20" stroke-width="0.18" textLength="116.6" lengthAdjust="spacingAndGlyphs" >False positive percentage</text>
<text transform="translate(559.3,183.4) rotate(-90)" font-size="10.7" fill="#231f20" stroke="#231f20" stroke-width="0.18" textLength="115.8" lengthAdjust="spacingAndGlyphs">True positive percentage</text>
<text x="549.9" y="11.9" font-size="14" text-anchor="start" fill="#231f20" textLength="8.4" lengthAdjust="spacingAndGlyphs" font-weight="bold" stroke="#231f20" stroke-width="0.5">C</text>
<polyline points="589.7,227.5 589.7,185.5 591.4,185.5 591.4,159.3 593.1,159.3 593.1,155.2 599.3,155.2 599.3,150.3 601.4,150.3 601.4,144.6 603.3,144.6 603.3,139.5 605,139.5 605,134.1 609.8,134.1 609.8,124 611.3,124 611.3,108.2 618.1,108.2 618.1,98 630.6,98 630.6,93.5 632.8,93.5 632.8,88.3 635.1,88.3 635.1,82.3 645.1,82.3 645.1,77.4 660.8,77.4 660.8,72.4 672.8,72.4 672.8,67.2 694.6,67.2 694.6,56.3 701.3,56.3 701.3,51.7 713.3,51.7 713.3,46.5 780.7,46.5 780.7,30.7 791,30.7" fill="none" stroke="#5fbc9b" stroke-width="1.3" stroke-linejoin="miter"/>
<polyline points="589.7,227.5 589.7,201 592.8,201 592.8,188 594.5,188 594.5,183 596,183 596,178.5 597.2,178.5 597.2,175.8 606,175.8 606,156.5 608,156.5 608,153 610,153 610,149.8 614.8,149.8 614.8,139.8 617.2,139.8 617.2,137.3 619.4,137.3 619.4,134.5 621.6,134.5 621.6,129.4 633.4,129.4 633.4,108.4 641.9,108.4 641.9,103 645.3,103 645.3,98.4 663.8,98.4 663.8,92.5 680.3,92.5 680.3,90 682,90 682,86 684.5,86 684.5,82.3 701.3,82.3 701.3,77.5 708.8,77.5 708.8,56.5 754.7,56.5 754.7,51.2 772.8,51.2 772.8,46.4 780.7,46.4 780.7,36.5 788,36.5 788,33 791,33 791,30.9" fill="none" stroke="#5fbc9b" stroke-width="1.2" stroke-dasharray="1.2 1.5"/>
<line x1="690.9" y1="189.7" x2="709" y2="189.7" stroke="#45b08a" stroke-width="1.6"/>
<line x1="690.8" y1="216.6" x2="709.2" y2="216.6" stroke="#45b08a" stroke-width="1.5" stroke-dasharray="1.8 1.15"/>
<text x="715.4" y="188.0" font-size="8.0" text-anchor="start" fill="#231f20" stroke="#231f20" stroke-width="0.1" textLength="70.8" lengthAdjust="spacingAndGlyphs" >CHIT1 with covariates</text>
<text x="715.4" y="197.6" font-size="8.0" text-anchor="start" fill="#231f20" stroke="#231f20" stroke-width="0.1" textLength="41.8" lengthAdjust="spacingAndGlyphs" >AUC = 79.3%</text>
<text x="715.4" y="214.8" font-size="8.0" text-anchor="start" fill="#231f20" stroke="#231f20" stroke-width="0.1" textLength="35.8" lengthAdjust="spacingAndGlyphs" >CHIT1 only</text>
<text x="715.4" y="224.0" font-size="8.0" text-anchor="start" fill="#231f20" stroke="#231f20" stroke-width="0.1" textLength="41.8" lengthAdjust="spacingAndGlyphs" >AUC = 70.1%</text>
</g></svg>
</body></html>
